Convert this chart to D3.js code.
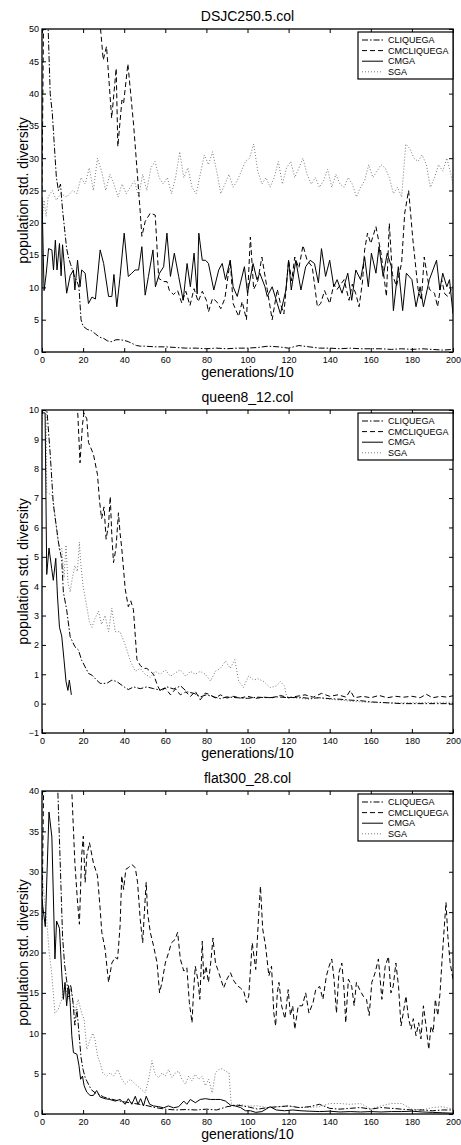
<!DOCTYPE html>
<html>
<head>
<meta charset="utf-8">
<script src="https://cdn.jsdelivr.net/npm/d3@7"></script>
<style>
  body { margin: 0; background: #fff; }
  svg { font-family: "Liberation Sans", Arial, Helvetica, sans-serif; }
</style>
</head>
<body>
<div id="chart"></div>
<script>
// series names in legend order
const seriesNames = ["CLIQUEGA", "CMCLIQUEGA", "CMGA", "SGA"];
const xTicks = [0, 20, 40, 60, 80, 100, 120, 140, 160, 180, 200];

// ---- DSJC250.5.col ----
const dsjcTicks = [0, 5, 10, 15, 20, 25, 30, 35, 40, 45, 50];
const dsjcCliquega = [[0,60],[1,58],[2,55],[3,50],[4,40],[5,37],[6,32],[7,27],[8,25],[9,26],[10,22],[11,19],[12,16],[13,14.5],[14,13.5],[15,12.5],[16,11.5],[17,11],[18,10],[19,5],[20,4],[22,3.5],[24,3.3],[26,2.8],[28,2.3],[30,2.1],[32,1.7],[34,1.6],[36,1.9],[38,1.9],[40,1.8],[42,1.6],[44,1.3],[46,1.0],[48,0.9],[50,0.9],[55,0.8],[60,0.8],[65,0.7],[70,0.6],[75,0.6],[80,0.5],[85,0.6],[90,0.5],[95,0.6],[100,0.6],[105,0.7],[110,0.9],[115,0.8],[120,0.6],[125,1.0],[130,0.8],[135,0.6],[140,0.6],[145,0.5],[150,0.6],[155,0.5],[160,0.5],[165,0.5],[170,0.4],[175,0.5],[180,0.4],[185,0.5],[190,0.4],[195,0.3],[200,0.4]];
const dsjcCmcliquega = [[0,25],[1,60],[27,60],[28.5,50],[29.8,45.2],[31.4,47.3],[33.9,36.2],[36.1,43.9],[36.9,31.8],[38.9,39],[39.7,38.5],[41.8,44.6],[44.6,35.1],[46.7,26.3],[47.8,21.7],[48.6,17.9],[50.2,20.2],[52.7,21.5],[55.1,21.2],[56.8,11.4],[59.2,10.9],[60.8,10.9],[62,9.5],[64,8.9],[66,9.5],[68,7.6],[70,9.4],[72,7.2],[74,9.8],[76,7.8],[78,9.4],[80,8],[81,6.2],[83,8.3],[85,7.8],[87,6.7],[89,8.3],[91.6,14.2],[93,7.5],[95.7,5.5],[97.4,7.8],[99.5,5],[101.4,17.8],[103,9.7],[105,11],[107,14.7],[109.6,9.7],[112,5],[114.5,9.7],[116,7.5],[117.7,5.9],[120,14.2],[121.5,11],[123,14.7],[125,13],[127,16.5],[129,14.2],[131.5,13.2],[134,7],[135.6,7.5],[137.5,9.5],[140,7.5],[142,10.5],[143.6,9.7],[147,11.2],[149.4,8],[151,10.5],[152.7,9],[154.3,7],[156,11],[157,15.8],[158.4,18.4],[160,16.8],[162.5,19.4],[165,15.3],[167.6,8.6],[169,19.9],[170.5,12],[172.5,10.2],[175,13.8],[176.5,21.5],[178.4,25],[180.5,17.3],[183,9.7],[184.6,8],[186,14.7],[188.5,9.7],[191,9.1],[192.5,7],[194.5,11.2],[196,9],[197.5,8.6],[200,10.2]];
const dsjcCmga = [[0,24],[1,9.5],[2,12],[3.2,16],[4.8,15.8],[5.6,12.7],[6.5,17.3],[7.3,12.7],[8.5,16.8],[9.3,11.8],[10,16.6],[12,9.1],[13.7,11.8],[15.3,12.7],[16,9.6],[17.3,14.2],[18.5,10.1],[19.3,12.7],[21,12.2],[22.6,7.5],[24.3,8.5],[26,8.2],[28.3,15.8],[30,13.7],[32.4,8.6],[34,8.6],[35,12],[36.4,7],[38,11.7],[40,18.4],[42,11.7],[43.7,12.2],[45.3,12.7],[47,12.7],[48.6,16.3],[50.2,8.8],[51.8,11.7],[54,15.8],[55.2,10.1],[57.2,12.2],[59.2,13.2],[60.8,18.4],[62.5,11.7],[64.4,15.3],[66.5,11.7],[68.7,8],[70.6,13.7],[72.2,10.1],[74,15.3],[75.5,9],[76.3,18.4],[78,14.2],[79.6,14.2],[81,13.7],[83.6,9.6],[86,12.7],[87.7,13.7],[89.3,11.2],[91.6,14.2],[93,10.1],[95,8.6],[96.6,10.7],[98.5,13.2],[100,9.1],[102.7,13.7],[104.6,11.2],[106,12.2],[108.5,10.1],[109.6,8.6],[112,10.1],[114.5,7.5],[116,5.9],[118.7,9.6],[120,14.2],[121.3,9.6],[123.5,14.2],[126,9.6],[128.3,13.2],[130.5,14.2],[132.6,13.7],[134.5,10.7],[136,16],[138,11.7],[140,14.2],[142,10.1],[143.6,11.2],[146,9.1],[148.8,12.2],[150.7,8],[152.7,12.7],[155,11.2],[157,14.7],[158.8,10.1],[160.3,15.3],[162.5,12.2],[164,16.3],[166,11.7],[168,15.3],[170,13.2],[171,6.4],[173.4,13.2],[175.5,6.4],[177.3,12.2],[180,11.2],[182,7],[184,10.1],[185.6,7],[188.5,11.2],[192,14.2],[193.6,9.6],[195,12.2],[197,10.1],[198.3,11.2],[200,5.9]];
const dsjcSga = [[0,20],[1,23.5],[2,21],[3,24],[5,25],[7,23.5],[9,24.5],[12,24],[15,25],[17,24.5],[19,27],[21,26],[23,28.5],[25,25],[27,30],[29,28],[31,25],[33,27.5],[35,26],[37,24],[39,26],[41,24.5],[43,25.5],[45,26.5],[47,24],[49,27.5],[51,25],[53,28.5],[55,29.5],[57,27],[59,26],[61,27],[63,24.5],[65,27],[67,31],[69,27],[71,28.5],[73,25.5],[75,24.5],[77,27.5],[79,30.5],[81,29],[83,31],[85,28],[87,24.5],[89,26],[91,27.5],[93,25.5],[95,26.5],[97,28],[99,29.5],[101,30],[103,32.2],[105,28],[107,26],[109,27],[111,25.5],[113,27],[115,29.5],[117,26],[119,28.5],[121,29.5],[123,27],[125,28.5],[127,30],[129,27.5],[131,26],[133,27],[135,25.5],[137,26.5],[139,28.3],[141,25.5],[143,27.5],[145,26],[147,25.5],[149,27],[151,26],[153,24],[155,25.5],[157,26.5],[159,29],[161,27],[163,28],[165,29],[167,28.5],[169,27],[171,24.5],[173,25.5],[175,24],[177,32.2],[179,31.5],[181,30],[183,29.5],[185,30.5],[187,29],[189,25.5],[191,27],[193,29],[195,28],[197,30],[199,27.5],[200,26]];

// ---- queen8_12.col ----
const queenTicks = [-1, 0, 1, 2, 3, 4, 5, 6, 7, 8, 9, 10];
const queenCliquega = [[0,11],[2.5,9.9],[4,8.5],[5.5,6.8],[8,5.5],[9.6,4.9],[10.4,3.8],[12,3.2],[13.7,2.28],[16,1.94],[17.7,1.83],[19.3,1.48],[21,1.25],[22.6,1.03],[24.3,0.97],[26.6,0.8],[28.3,0.69],[31.5,0.69],[34,0.8],[36.4,0.75],[40,0.57],[42,0.48],[44.6,0.57],[47.8,0.51],[51,0.57],[54.3,0.51],[57.5,0.46],[60.8,0.57],[64,0.5],[67.5,0.6],[70.6,0.4],[74,0.35],[77,0.23],[80,0.3],[83.6,0.23],[86.8,0.17],[90,0.23],[95,0.2],[100,0.18],[105,0.22],[110,0.2],[115,0.23],[120,0.2],[125,0.22],[130,0.18],[135,0.2],[140,0.17],[145,0.15],[150,0.12],[155,0.1],[160,0.06],[165,0.04],[170,0.02],[175,0],[200,0]];
const queenCmcliquega = [[0,10.5],[1,11],[17,11],[17.4,9.9],[18.5,8.2],[19.7,9.5],[20.4,9.9],[21.8,9.7],[22.6,8.9],[25,8.5],[27,7.8],[28,6.9],[29,6.3],[30.2,6.7],[31.2,5.6],[32.4,6.1],[33.2,7.05],[34,5.7],[34.8,4.8],[36,5.3],[37.2,6.5],[38,5.8],[38.8,5.3],[40.5,3.9],[42,3.3],[43.2,3.5],[44.5,3.2],[46.2,1.5],[47.8,1.3],[49.4,1.2],[51,1.2],[52.7,1.1],[54.3,1.0],[56,0.65],[57.6,0.42],[60,0.53],[62.5,0.3],[65,0.5],[67.3,0.3],[70,0.4],[72.2,0.24],[74.6,0.42],[77,0.13],[79.5,0.36],[82,0.3],[84.4,0.19],[86.8,0.3],[90,0.19],[93,0.25],[96.6,0.19],[100,0.25],[104,0.18],[108,0.22],[112,0.2],[116,0.28],[120,0.2],[124,0.25],[128,0.3],[132,0.22],[136,0.35],[140,0.25],[144,0.3],[148,0.22],[150,0.45],[152,0.2],[156,0.25],[160,0.2],[164,0.28],[168,0.2],[172,0.25],[176,0.22],[180,0.25],[184,0.2],[187,0.32],[190,0.2],[194,0.25],[197,0.22],[200,0.27]];
const queenCmga = [[0,9.9],[1.5,9.9],[2.3,4.4],[3.4,5.3],[4.7,4.6],[5.5,4.2],[6.7,4.95],[7.5,3.7],[8.5,2.6],[9.6,2.3],[10.7,1.5],[11.7,0.75],[12.6,0.45],[13.3,0.8],[14.3,0.3]];
const queenSga = [[0,9.5],[1,10.5],[2,9.9],[2.3,7.2],[4.7,7.1],[5.5,6.9],[6.3,6.4],[7.5,5.7],[8.5,5.2],[9.6,5.3],[10.7,4.3],[11.7,5.4],[12.6,4.15],[13.7,3.8],[14.8,4.3],[16,4.7],[17.2,4.5],[18.2,5.5],[18.8,4.8],[20,4.0],[21.8,3.3],[23,2.8],[24.3,2.6],[25.8,2.9],[27.5,3.15],[29,2.7],[30.7,3.0],[32.4,2.45],[34,3.25],[35.6,2.45],[38,2.45],[40.5,2.0],[43,1.45],[45.4,1.1],[47.8,1.2],[50.2,1.0],[52.7,0.9],[55,1.1],[57.6,1.0],[60,1.15],[62.5,0.93],[65,1.05],[67.3,1.15],[70,0.93],[72.2,1.1],[74.6,1.0],[77,1.1],[79.5,1.0],[82,0.77],[84.4,1.1],[86.8,1.2],[89.3,1.45],[91.6,1.2],[93.8,1.5],[95.7,0.77],[98,0.55],[100.6,0.95],[103,0.8],[105,0.85],[108,0.75],[111,0.55],[114,0.6],[116,0.75],[118,0.6],[119,0.25],[122,0.2],[126,0.18],[130,0.15],[135,0.2],[140,0.15],[145,0.12],[150,0.08],[155,0.06],[160,0.04],[170,0.03],[180,0.03],[190,0.04],[200,0.05]];

// ---- flat300_28.col ----
const flatTicks = [0, 5, 10, 15, 20, 25, 30, 35, 40];
const flatCliquega = [[0,45],[7.5,45],[7.7,40],[9,30],[10,22],[11,18.5],[12,16.5],[13,14.5],[14,16],[15,14],[16,11],[17,13],[18,10],[19,7],[20,5.5],[21,4.5],[22,4],[24,3],[26,2.6],[28,2.4],[30,2.1],[33,1.9],[36,1.7],[40,1.5],[45,1.3],[50,1.1],[55,0.8],[60,0.6],[65,0.5],[70,0.55],[75,0.5],[80,0.6],[85,0.5],[90,0.9],[95,1.1],[100,0.9],[105,0.6],[110,0.8],[115,0.9],[120,1.0],[125,0.8],[130,0.9],[135,1.2],[140,0.7],[145,0.6],[150,0.7],[155,0.8],[160,0.6],[165,0.8],[170,0.7],[175,0.6],[180,0.5],[185,0.5],[190,0.4],[195,0.5],[200,0.5]];
const flatCmcliquega = [[0,24],[1,45],[14,45],[14.5,40],[16,31.1],[17.2,26.6],[18.2,23.5],[19.3,32],[20.1,34.4],[21,28.7],[21.8,32],[23.1,33.6],[25,31.1],[27,29.5],[28.3,25.4],[29.1,22.5],[30.7,20.4],[32.4,16.3],[34,18.7],[35.6,19.4],[36.8,19.2],[38,23.3],[38.8,29.5],[39.7,27.8],[40.8,30.3],[42,30.5],[43.7,30.9],[45.4,30.5],[46.5,28.7],[47.8,24.1],[49,21.2],[49.8,24.9],[50.7,28.7],[51.4,24.9],[52.7,22.5],[54.3,20.8],[56,18.7],[57.2,15],[58.4,16.3],[60,18.7],[61.5,19.9],[63,21.2],[64.7,21.6],[66,22.5],[67.3,19.2],[69,17.7],[70.5,18.1],[71.7,13.8],[73,11.3],[73.8,15.4],[74.6,18.3],[75.8,16.7],[76.8,14.2],[78,21.4],[78.7,16.7],[79.8,18.3],[81,16.3],[82.3,19.2],[83.2,21.8],[84.4,18.7],[85.5,17.9],[86.8,16.9],[88.4,15.6],[90,16.7],[91.7,17.5],[93.3,16.5],[95,15.9],[96.6,15.6],[98.2,15.2],[99.5,13.8],[100.6,14.6],[102.3,21.2],[104,17.9],[104.7,21.2],[105.5,24.9],[106.3,28.2],[107.4,22.9],[108.8,20.8],[110.4,17.1],[111.7,18.3],[112.8,12.5],[113.7,10.9],[114.5,15],[115.3,16.3],[116.6,13.4],[118.2,11.8],[119.8,15.4],[120.9,12.2],[122,13.4],[123,10.5],[124.7,13.4],[126.7,13.4],[128.3,15],[129.9,12.5],[131.9,13.8],[133.2,15.4],[135.1,15.8],[136.7,14.2],[138.4,17.1],[139.7,18.3],[141,19.2],[142.1,16.7],[143.3,12.5],[144.5,17.5],[145.9,18.7],[147,15.4],[147.8,11.3],[149.1,16.7],[150.7,15.8],[151.9,13.4],[153,16.3],[154.6,15.4],[156.3,14.6],[157.9,14.2],[159.2,12.2],[160.5,16.3],[162.1,17.5],[163.7,19.2],[165.4,14.2],[167,18.3],[168.6,19.5],[169.8,15],[170.9,15.8],[172.2,18.7],[173.5,15.8],[174.7,10.9],[175.8,12.5],[177.1,14.6],[178.4,11.8],[179.6,10.5],[180.7,11.8],[182,9.7],[183.3,11.3],[184.4,9.3],[185.6,13.4],[186.9,10.9],[188.2,8],[189.3,10.9],[190.4,10.1],[191.4,14.2],[192.6,12.2],[193.7,15],[194.7,19.2],[195.8,23.3],[196.6,26.2],[197.5,22],[198.6,18.7],[200,16.7]];
const flatCmga = [[0,26.5],[1.6,23.2],[3.4,37.4],[4.8,34.3],[6.3,19.2],[7.1,23.9],[8.5,23],[9.6,17.5],[10.4,14.2],[11.2,16.3],[12,13.4],[12.9,15.9],[13.7,13.8],[14.5,9.7],[15.3,7.6],[17,7.4],[18,6],[18.8,4.3],[19.7,4.7],[20.5,3.5],[21.8,2.7],[23.4,2.3],[25,2.3],[26.6,2.9],[28.3,2.1],[30.7,1.9],[33,1.8],[35.6,1.6],[38,1.8],[40.5,1.2],[42,1.9],[43.7,1.2],[45.4,2.2],[46.7,1.2],[48,1.9],[49.4,1.0],[50.7,2.2],[52.4,1.2],[54.3,1.0],[56.8,0.9],[59.2,0.77],[61.5,1.0],[64,0.77],[66.5,0.9],[69,1.6],[70.5,1.2],[72.2,1.8],[74.6,1.4],[77,1.8],[79.5,1.9],[82,1.8],[84.4,1.8],[86.8,1.8],[89.3,1.6],[91.7,1.1],[94,1.0],[96.6,0.8],[99,0.4],[101.5,0.4],[104,0.2],[107,0.3],[111,0.9],[114,0.5],[118,0.4],[122,0.5],[126,0.4],[130,0.35],[135,0.3],[140,0.35],[145,0.25],[150,0.3],[155,0.25],[160,0.3],[165,0.25],[170,0.3],[175,0.3],[180,0.35],[185,0.25],[190,0.2],[195,0.15],[200,0.1]];
const flatSga = [[0,30],[1,27],[2.3,24],[3.5,20],[4.7,17.5],[6.3,12.5],[7.8,12.9],[9.6,14.2],[11.2,15.9],[12.9,14.2],[14.5,15],[16,12.5],[17.6,14.2],[19.3,12.5],[20.5,11.7],[21.8,8],[23.4,9.2],[24.7,10],[25.8,9.2],[27,7.2],[28.3,6.3],[29.6,5.1],[31.5,4.7],[33.2,5.1],[34.8,4.7],[36.8,5.5],[38.9,4.3],[40.5,3.7],[43,4.3],[45.4,3.7],[47.8,3.2],[50.2,2.6],[51.9,4.3],[53.5,6.6],[55.1,4.9],[56.8,4.5],[58.4,5.1],[60,4.7],[61.6,5.5],[63.3,4.5],[64.9,5.1],[66.5,5.3],[68.1,4.3],[69.8,3.7],[71.4,4.7],[73,4.1],[74.6,4.9],[76.3,4.3],[77.9,4.7],[79.5,3.5],[81.1,4.3],[82.8,2.6],[84.4,5.1],[86,5.5],[87.7,5.6],[89.3,5.3],[91,5.1],[92,1.4],[94.2,1.0],[96.6,1.2],[99,1.0],[105,1.0],[110,0.8],[115,0.9],[120,1.0],[125,0.8],[130,0.8],[135,0.9],[140,1.3],[145,1.3],[150,1.2],[155,1.3],[160,0.6],[165,1.0],[170,1.3],[175,1.3],[180,0.6],[185,0.5],[190,0.8],[195,0.9],[200,0.6]];

const styles = {
  CLIQUEGA:   { color: "#000", dash: "6,2,1.5,2", width: 1 },
  CMCLIQUEGA: { color: "#000", dash: "5,3", width: 1 },
  CMGA:       { color: "#000", dash: null, width: 1 },
  SGA:        { color: "#777", dash: "1,2", width: 1 }
};

const panels = [
  { title: "DSJC250.5.col", domain: [0, 50], ticks: dsjcTicks,
    data: [dsjcCliquega, dsjcCmcliquega, dsjcCmga, dsjcSga] },
  { title: "queen8_12.col", domain: [-1, 10], ticks: queenTicks,
    data: [queenCliquega, queenCmcliquega, queenCmga, queenSga] },
  { title: "flat300_28.col", domain: [0, 40], ticks: flatTicks,
    data: [flatCliquega, flatCmcliquega, flatCmga, flatSga] }
];

const W = 461, H = 1145;
const left = 42, plotW = 411, plotH = 323, firstTop = 29, step = 381;

const svg = d3.select("#chart").append("svg")
  .attr("width", W).attr("height", H);

panels.forEach((p, i) => {
  const top = firstTop + i * step;
  const g = svg.append("g").attr("transform", `translate(${left},${top})`);

  const x = d3.scaleLinear().domain([0, 200]).range([0, plotW]);
  const y = d3.scaleLinear().domain(p.domain).range([plotH, 0]);

  // clip
  const clipId = "clip" + i;
  g.append("clipPath").attr("id", clipId)
    .append("rect").attr("width", plotW).attr("height", plotH);

  const line = d3.line().x(d => x(d[0])).y(d => y(d[1]));

  const lines = g.append("g").attr("clip-path", `url(#${clipId})`);
  // SGA first so the black lines sit on top
  [3, 0, 1, 2].forEach(k => {
    const st = styles[seriesNames[k]];
    lines.append("path")
      .datum(p.data[k])
      .attr("d", line)
      .attr("fill", "none")
      .attr("stroke", st.color)
      .attr("stroke-width", st.width)
      .attr("stroke-dasharray", st.dash);
  });

  // axes: ticks inward on all four sides
  const tickLen = 4;
  const axB = g.append("g").attr("transform", `translate(0,${plotH})`)
    .call(d3.axisBottom(x).tickValues(xTicks).tickSize(-tickLen).tickPadding(4.5));
  const axT = g.append("g")
    .call(d3.axisTop(x).tickValues(xTicks).tickSize(-tickLen).tickFormat(""));
  const axL = g.append("g")
    .call(d3.axisLeft(y).tickValues(p.ticks).tickSize(-tickLen).tickPadding(3)
      .tickFormat(d => d < 0 ? "\u2212" + Math.abs(d) : d));
  const axR = g.append("g").attr("transform", `translate(${plotW},0)`)
    .call(d3.axisRight(y).tickValues(p.ticks).tickSize(-tickLen).tickFormat(""));

  [axB, axT, axL, axR].forEach(a => {
    a.select(".domain").remove();
    a.selectAll("line").attr("stroke", "#000");
    a.selectAll("text").attr("font-size", 9).attr("fill", "#000")
      .attr("font-family", "'Liberation Sans', Arial, sans-serif");
  });

  g.append("rect").attr("width", plotW).attr("height", plotH)
    .attr("fill", "none").attr("stroke", "#000").attr("stroke-width", 1.3);

  // title and labels
  g.append("text").attr("x", plotW / 2).attr("y", -8)
    .attr("text-anchor", "middle").attr("font-size", 14).text(p.title);
  g.append("text").attr("x", plotW / 2).attr("y", plotH + 25)
    .attr("text-anchor", "middle").attr("font-size", 14).text("generations/10");
  g.append("text")
    .attr("transform", `translate(-14.5,${plotH / 2}) rotate(-90)`)
    .attr("text-anchor", "middle").attr("font-size", 14)
    .text("population std. diversity");

  // legend
  const lg = g.append("g").attr("transform", `translate(${plotW - 95},3)`);
  lg.append("rect").attr("width", 95).attr("height", 47)
    .attr("fill", "#fff").attr("stroke", "#000").attr("stroke-width", 1.2);
  seriesNames.forEach((name, k) => {
    const st = styles[name];
    const ly = 8 + k * 10.6;
    lg.append("line").attr("x1", 4).attr("x2", 25).attr("y1", ly).attr("y2", ly)
      .attr("stroke", st.color).attr("stroke-width", st.width)
      .attr("stroke-dasharray", st.dash);
    lg.append("text").attr("x", 30).attr("y", ly).attr("dy", "0.35em")
      .attr("font-size", 9).text(name);
  });
});
</script>
</body>
</html>
